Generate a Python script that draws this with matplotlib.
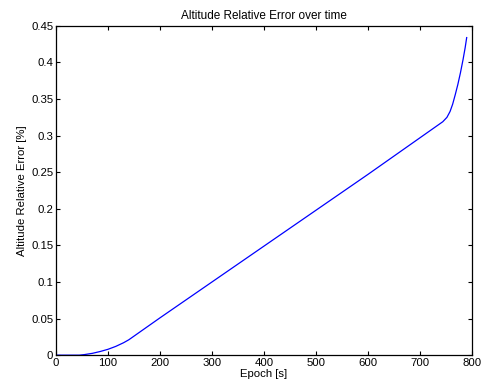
import matplotlib
matplotlib.use('Agg')
import matplotlib.pyplot as plt

plt.rcParams['font.family'] = ['Liberation Sans', 'DejaVu Sans']
plt.rcParams['font.size'] = 8.2

# altitude relative error vs epoch
epoch = [0, 45, 55, 70, 85, 100, 115, 130, 140, 200, 300, 400, 500, 600, 700, 744,
         752, 758, 763, 768, 773, 778, 783, 787, 790]
rel_err = [0, 0, 0.0008, 0.0025, 0.005, 0.008, 0.012, 0.017, 0.021, 0.051, 0.100, 0.149,
           0.198, 0.247, 0.297, 0.319, 0.325, 0.333, 0.343, 0.356, 0.370, 0.386, 0.404,
           0.420, 0.434]

fig = plt.figure(figsize=(4.83, 3.92), dpi=100)
ax = fig.add_axes([0.116, 0.094, 0.861, 0.840])

ax.plot(epoch, rel_err, color='#0000ff', linewidth=0.9)

ax.set_xlim(0, 800)
ax.set_ylim(0, 0.45)
ax.set_xticks(range(0, 801, 100))
ax.set_yticks([0, 0.05, 0.1, 0.15, 0.2, 0.25, 0.3, 0.35, 0.4, 0.45])
ax.set_yticklabels(['0', '0.05', '0.1', '0.15', '0.2', '0.25', '0.3', '0.35', '0.4', '0.45'])
ax.tick_params(direction='in', top=True, right=True, length=3, width=0.8, pad=2)
for s in ax.spines.values():
    s.set_linewidth(0.9)

ax.set_title('Altitude Relative Error over time', fontsize=8.5, pad=5)
ax.set_xlabel('Epoch [s]', labelpad=1)
ax.set_ylabel('Altitude Relative Error [%]', labelpad=3)

fig.savefig('out.png', dpi=100)
